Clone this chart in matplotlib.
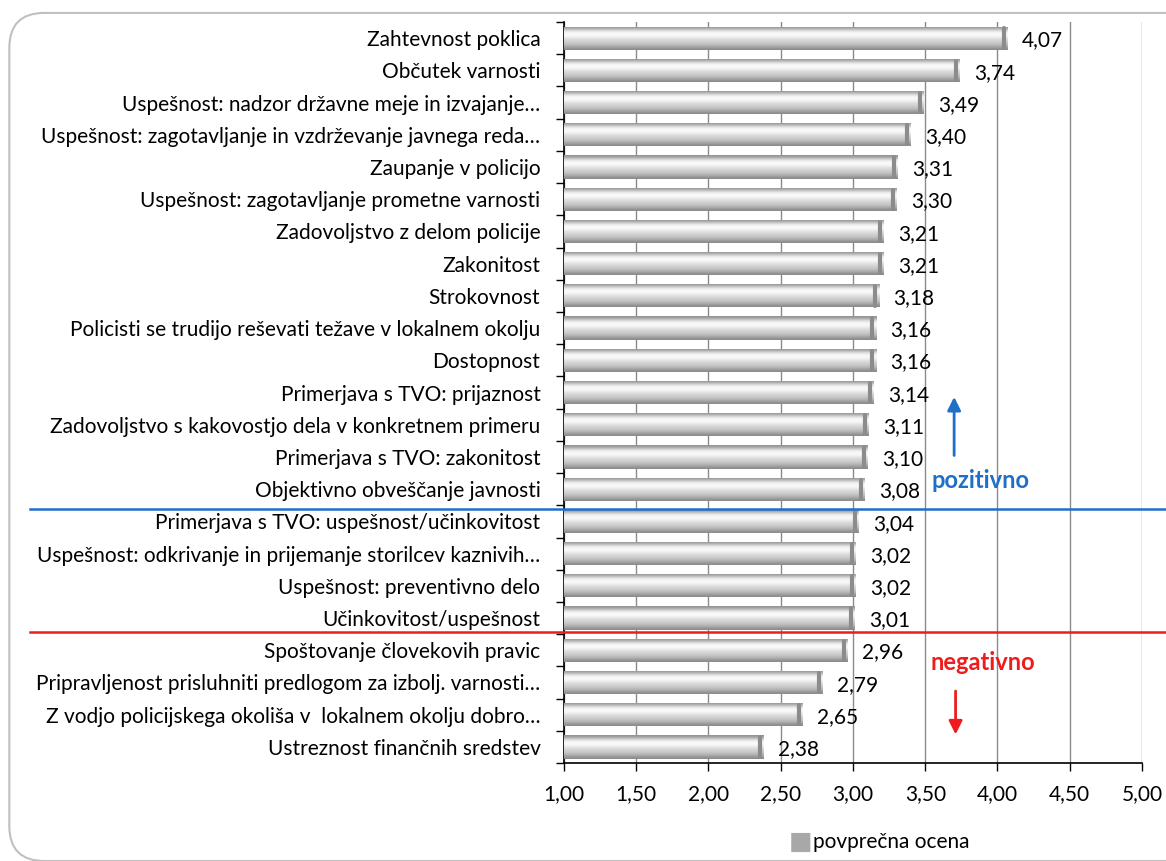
import numpy as np
import matplotlib
matplotlib.use("Agg")
import matplotlib.pyplot as plt
import matplotlib.transforms as mtransforms
from matplotlib.patches import FancyBboxPatch

categories = [
    "Zahtevnost poklica",
    "Občutek varnosti",
    "Uspešnost: nadzor državne meje in izvajanje…",
    "Uspešnost: zagotavljanje in vzdrževanje javnega reda…",
    "Zaupanje v policijo",
    "Uspešnost: zagotavljanje prometne varnosti",
    "Zadovoljstvo z delom policije",
    "Zakonitost",
    "Strokovnost",
    "Policisti se trudijo reševati težave v lokalnem okolju",
    "Dostopnost",
    "Primerjava s TVO: prijaznost",
    "Zadovoljstvo s kakovostjo dela v konkretnem primeru",
    "Primerjava s TVO: zakonitost",
    "Objektivno obveščanje javnosti",
    "Primerjava s TVO: uspešnost/učinkovitost",
    "Uspešnost: odkrivanje in prijemanje storilcev kaznivih…",
    "Uspešnost: preventivno delo",
    "Učinkovitost/uspešnost",
    "Spoštovanje človekovih pravic",
    "Pripravljenost prisluhniti predlogom za izbolj. varnosti…",
    "Z vodjo policijskega okoliša v  lokalnem okolju dobro…",
    "Ustreznost finančnih sredstev",
]
values = [4.07, 3.74, 3.49, 3.40, 3.31, 3.30, 3.21, 3.21, 3.18, 3.16, 3.16,
          3.14, 3.11, 3.10, 3.08, 3.04, 3.02, 3.02, 3.01, 2.96, 2.79, 2.65, 2.38]
xticks = [1.0, 1.5, 2.0, 2.5, 3.0, 3.5, 4.0, 4.5, 5.0]
series_name = "povprečna ocena"

plt.rcParams["font.family"] = ["Lato", "DejaVu Sans"]
fs = 15

fig = plt.figure(figsize=(11.66, 8.61), dpi=100)
ax = fig.add_axes([0.4837, 0.1138, 0.4957, 0.8606])

#rounded frame around the chart
frame = FancyBboxPatch((0.008, 0.0), 1.05, 0.985, boxstyle="round,pad=0,rounding_size=0.03",
                       transform=fig.transFigure, facecolor="none", edgecolor="#c0c0c0",
                       linewidth=1.5, clip_on=False, mutation_aspect=1166 / 861)
fig.patches.append(frame)

y = np.arange(len(values))
bars = ax.barh(y, [v - 1 for v in values], left=1, height=0.72, color="#c8c8c8",
               edgecolor="none", zorder=2)

#cylinder-like gradient in each bar
g = np.array([0.58, 0.70, 0.86, 0.96, 0.98, 0.96, 0.90, 0.85, 0.81, 0.77, 0.71, 0.63, 0.55])
grad = np.repeat(g[:, None], 2, axis=1)
for b in bars:
    x0, y0 = b.get_x(), b.get_y()
    w, h = b.get_width(), b.get_height()
    im = ax.imshow(grad, cmap="gray", vmin=0, vmax=1, aspect="auto",
                   extent=[x0, x0 + w, y0 + h, y0], zorder=3, interpolation="bicubic")
    im.set_clip_path(b)
    ax.plot([x0 + w - 0.025, x0 + w - 0.025], [y0 + 0.06, y0 + h - 0.06],
            color="#8c8c8c", lw=3, zorder=4, solid_capstyle="round")

for yi, v in zip(y, values):
    ax.text(v + 0.1, yi + 0.07, f"{v:.2f}".replace(".", ","), va="center", ha="left",
            fontsize=fs, zorder=5)

ax.set_xlim(1, 5)
ax.set_ylim(len(values) - 0.5, -0.5)
ax.set_xticks(xticks)
ax.set_xticklabels([f"{t:.2f}".replace(".", ",") for t in xticks], fontsize=fs)
ax.set_yticks(y)
ax.set_yticklabels(categories, fontsize=fs)
ax.tick_params(axis="y", length=0, pad=17)
ax.set_yticks(np.arange(-0.5, len(values)), minor=True)
ax.tick_params(axis="y", which="minor", length=6, width=1, direction="out")
ax.tick_params(axis="x", length=6, width=1, direction="out", pad=9)
ax.grid(axis="x", color="#8a8a8a", linewidth=1, zorder=0)
ax.set_axisbelow(True)
for s in ["top", "right"]:
    ax.spines[s].set_visible(False)
ax.spines["left"].set_linewidth(1.2)
ax.spines["bottom"].set_linewidth(1.2)

#divider lines across the figure
tr = mtransforms.blended_transform_factory(fig.transFigure, ax.transData)
ax.plot([0.026, 1.0], [14.62, 14.62], color="#1f6fc8", lw=1.8, transform=tr, clip_on=False, zorder=6)
ax.plot([0.026, 1.0], [18.44, 18.44], color="#ee1c1c", lw=1.8, transform=tr, clip_on=False, zorder=6)

ax.text(3.88, 13.72, "pozitivno", color="#1f6fc8", fontsize=17, fontweight="bold",
        ha="center", va="center", zorder=6)
ax.text(3.90, 19.38, "negativno", color="#ee1c1c", fontsize=17, fontweight="bold",
        ha="center", va="center", zorder=6)
ax.annotate("", xy=(3.70, 11.05), xytext=(3.70, 13.04),
            arrowprops=dict(arrowstyle="-|>", color="#1f6fc8", lw=2, mutation_scale=20), zorder=6)
ax.annotate("", xy=(3.71, 21.7), xytext=(3.71, 20.18),
            arrowprops=dict(arrowstyle="-|>", color="#ee1c1c", lw=2, mutation_scale=20), zorder=6)

#legend
fig.text(0.6865, 0.0221, "■", color="#a8a8a8", fontsize=18, ha="center", va="center",
         family="DejaVu Sans")
fig.text(0.697, 0.0221, series_name, fontsize=fs, ha="left", va="center")

fig.savefig("out.png", dpi=100)
